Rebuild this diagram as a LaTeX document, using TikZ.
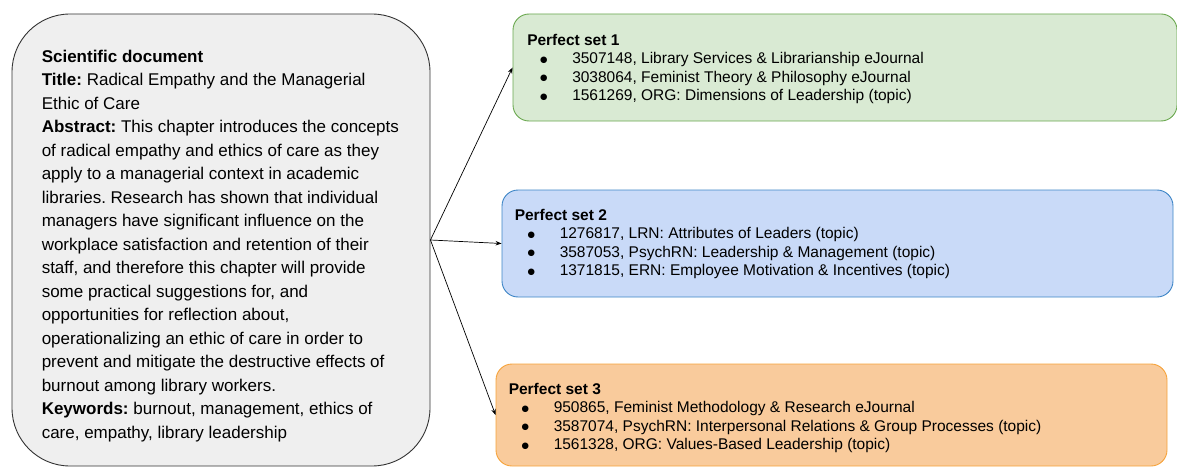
\documentclass[tikz,border=0pt]{standalone}
\usepackage{fontspec}
\setmainfont{Liberation Sans}
\newfontfamily\symfont{DejaVu Sans}
\usetikzlibrary{arrows.meta}
\definecolor{docfill}{HTML}{EFEFEF}
\definecolor{docline}{HTML}{333333}
\definecolor{gfill}{HTML}{D9EAD3}
\definecolor{gline}{HTML}{6AA84F}
\definecolor{bfill}{HTML}{C9DAF8}
\definecolor{bline}{HTML}{3D85C6}
\definecolor{ofill}{HTML}{F9CB9C}
\definecolor{oline}{HTML}{F6A33B}
\newcommand{\bul}{\hspace*{12.8pt}\makebox[32.2pt][l]{\raisebox{1.5pt}{\symfont\fontsize{8.5}{8.5}\selectfont ●}}}
\frenchspacing
\begin{document}
\begin{tikzpicture}[x=1pt,y=1pt,
  docbox/.style={draw=docline, fill=docfill, line width=0.9pt, rounded corners=58pt, minimum width=418pt, minimum height=452pt, inner sep=0pt},
  setbox/.style={rounded corners=16pt, line width=0.9pt, inner sep=0pt, minimum height=107pt},
  doctext/.style={anchor=north west, inner sep=0pt, align=left, font=\fontsize{17}{23.5}\selectfont\frenchspacing},
  settext/.style={anchor=north west, inner sep=0pt, align=left, font=\fontsize{15.5}{18.5}\selectfont\frenchspacing},
  link/.style={-{Stealth[length=6pt,width=4.5pt]}, line width=0.7pt, black}]
\useasboundingbox (0,0) rectangle (1177,467);

\node[docbox] (doc) at (221,227) {};
\node[setbox, draw=gline, fill=gfill, minimum width=664pt] (set1) at (845,399.5) {};
\node[setbox, draw=bline, fill=bfill, minimum width=671pt] (set2) at (837.5,223.5) {};
\node[setbox, draw=oline, fill=ofill, minimum width=671pt, minimum height=102pt] (set3) at (831.5,52) {};

\node[doctext] (doctxt) at ([xshift=30pt,yshift=-36.2pt]doc.north west) {%
\textbf{Scientific document}\\
\textbf{Title:} Radical Empathy and the Managerial\\
Ethic of Care\\
\textbf{Abstract:} This chapter introduces the concepts\\
of radical empathy and ethics of care as they\\
apply to a managerial context in academic\\
libraries. Research has shown that individual\\
managers have significant influence on the\\
workplace satisfaction and retention of their\\
staff, and therefore this chapter will provide\\
some practical suggestions for, and\\
opportunities for reflection about,\\
operationalizing an ethic of care in order to\\
prevent and mitigate the destructive effects of\\
burnout among library workers.\\
\textbf{Keywords:} burnout, management, ethics of\\
care, empathy, library leadership};

\node[settext] (set1txt) at ([xshift=14.5pt,yshift=-20.2pt]set1.north west) {%
\textbf{Perfect set 1}\\
\bul 3507148, Library Services \& Librarianship eJournal\\
\bul 3038064, Feminist Theory \& Philosophy eJournal\\
\bul 1561269, ORG: Dimensions of Leadership (topic)};

\node[settext] (set2txt) at ([xshift=13pt,yshift=-19.2pt]set2.north west) {%
\textbf{Perfect set 2}\\
\bul 1276817, LRN: Attributes of Leaders (topic)\\
\bul 3587053, PsychRN: Leadership \& Management (topic)\\
\bul 1371815, ERN: Employee Motivation \& Incentives (topic)};

\node[settext] (set3txt) at ([xshift=13pt,yshift=-19.2pt]set3.north west) {%
\textbf{Perfect set 3}\\
\bul 950865, Feminist Methodology \& Research eJournal\\
\bul 3587074, PsychRN: Interpersonal Relations \& Group Processes (topic)\\
\bul 1561328, ORG: Values-Based Leadership (topic)};

\draw[link] (doc.east) -- (set1.west);
\draw[link] (doc.east) -- (set2.west);
\draw[link] (doc.east) -- (set3.west);
\end{tikzpicture}
\end{document}
